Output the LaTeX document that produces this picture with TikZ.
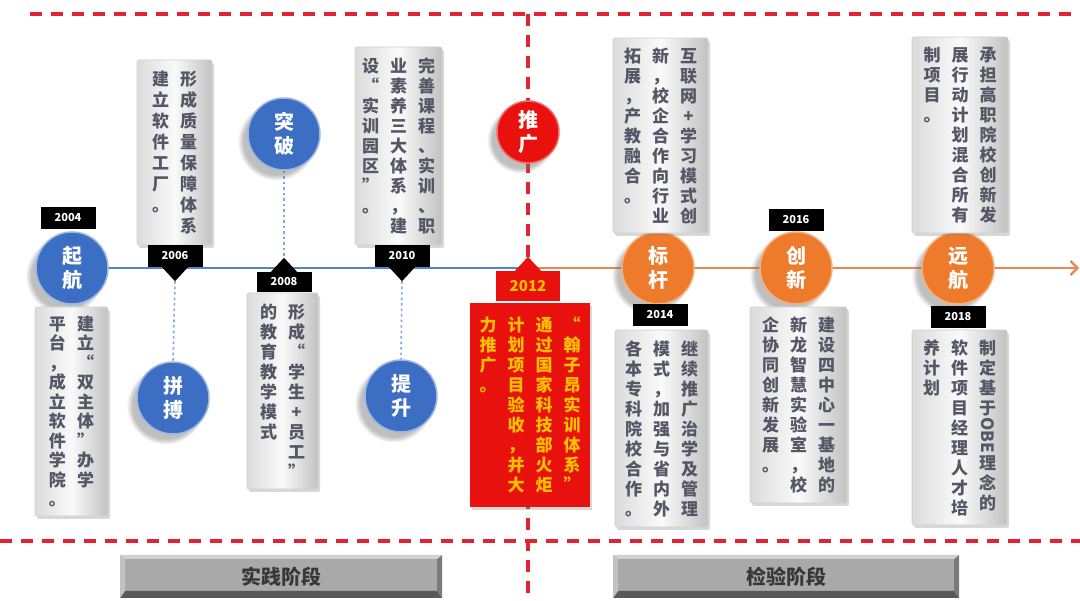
\documentclass[tikz,border=0pt]{standalone}
\usepackage{fontspec}
\usepackage{graphicx}
\setmainfont{Noto Sans CJK SC}
\usetikzlibrary{shadows,calc,arrows.meta}
\definecolor{cblue}{HTML}{3C6FC4}
\definecolor{corange}{HTML}{EE7B2C}
\definecolor{cred}{HTML}{E8110E}
\definecolor{lblue}{HTML}{4F86C6}
\definecolor{lorange}{HTML}{E9884A}
\definecolor{dashred}{HTML}{E42232}
\definecolor{dotblue}{HTML}{7FA7DA}
\definecolor{boxtext}{HTML}{555766}
\definecolor{gold}{HTML}{FFC000}
\definecolor{btngray}{HTML}{A9A9A9}
\makeatletter
\newdimen\vcpitch \vcpitch=20pt
\newcommand\vcol[1]{\vtop{\baselineskip=\vcpitch\lineskip=2pt\lineskiplimit=0pt\@tfor\vc@c:=#1\do{\hbox to 28pt{\hss\vc@c\hss}}}}
\makeatother
\pgfdeclarelayer{bg}
\pgfsetlayers{bg,main}
\tikzset{
  infobox/.style={rectangle, rounded corners=2pt, draw=black!18, line width=.6pt,
    left color=black!14, right color=black!24, middle color=black!2,
    drop shadow={shadow xshift=2pt, shadow yshift=-3pt, opacity=.3},
    text=boxtext, font=\fontsize{17}{20}\selectfont\bfseries, inner sep=0pt},
  redbox/.style={rectangle, fill=cred, drop shadow={shadow xshift=2pt, shadow yshift=-3pt, opacity=.3},
    text=gold, font=\fontsize{17}{20}\selectfont\bfseries, inner sep=0pt},
  yearlab/.style={rectangle, fill=black, text=white, minimum width=55pt, minimum height=22pt,
    inner sep=0pt, font=\fontsize{11}{12}\selectfont\bfseries},
  milestone/.style={circle, minimum size=72pt, inner sep=0pt, line width=1.5pt, text=white,
    align=center, font=\fontsize{20}{24}\selectfont\bfseries,
    circular drop shadow={shadow xshift=-7pt, shadow yshift=-7pt, opacity=.45, fill=black!55, shadow scale=1.08}},
  bluems/.style={milestone, fill=cblue, draw=cblue!50!white},
  orangems/.style={milestone, fill=corange, draw=corange!60!white},
  redms/.style={milestone, fill=cred, draw=cred!60!white, minimum size=62pt},
  reddash/.style={draw=dashred, line width=3.2pt, dash pattern=on 12pt off 9pt},
  dotconn/.style={draw=dotblue, line width=1.6pt, dash pattern=on 2.5pt off 3pt},
  phase/.style={rectangle, minimum height=43pt, fill=btngray, text=black!78,
    font=\fontsize{20}{24}\selectfont\bfseries, path picture={
      \fill[black!65] (path picture bounding box.south west) -- (path picture bounding box.south east)
        -- ([xshift=-5pt,yshift=7pt]path picture bounding box.south east)
        -- ([xshift=5pt,yshift=7pt]path picture bounding box.south west) -- cycle;
      \fill[black!52] (path picture bounding box.south east) -- (path picture bounding box.north east)
        -- ([xshift=-5pt,yshift=-4pt]path picture bounding box.north east)
        -- ([xshift=-5pt,yshift=7pt]path picture bounding box.south east) -- cycle;
      \fill[black!18] (path picture bounding box.north west) -- (path picture bounding box.north east)
        -- ([xshift=-5pt,yshift=-4pt]path picture bounding box.north east)
        -- ([xshift=5pt,yshift=-4pt]path picture bounding box.north west) -- cycle;
      \fill[black!24] (path picture bounding box.north west) -- (path picture bounding box.south west)
        -- ([xshift=5pt,yshift=7pt]path picture bounding box.south west)
        -- ([xshift=5pt,yshift=-4pt]path picture bounding box.north west) -- cycle;
    }},
}
\begin{document}
\begin{tikzpicture}[x=1pt,y=-1pt]
\useasboundingbox (0,0) rectangle (1080,601);

% ---------- milestone circles ----------
\node[bluems] (c2004) at (72,268) {起\\航};
\node[bluems] (c2006) at (173,398) {拼\\搏};
\node[bluems] (c2008) at (284,134) {突\\破};
\node[bluems] (c2010) at (401,396) {提\\升};
\node[redms] (c2012) at (528,132) {推\\广};
\node[orangems] (c2014) at (658,268) {标\\杆};
\node[orangems] (c2016) at (796,268) {创\\新};
\node[orangems] (c2018) at (958,268) {远\\航};

% ---------- text boxes ----------
\node[infobox, minimum width=73pt, minimum height=209pt] (bx2004) at (71.5,411.5)
  {\vcpitch=19.5pt\relax\vcol{平台，成立软件学院。}\vcol{建立“双主体”办学}};
\node[infobox, minimum width=75pt, minimum height=185pt] (bx2006) at (174.5,152.5)
  {\vcpitch=21pt\relax\vcol{建立软件工厂。}\vcol{形成质量保障体系}};
\node[infobox, minimum width=71pt, minimum height=196pt] (bx2008) at (282.5,391)
  {\vcol{的教育教学模式}\vcol{形成“学生+员工”}};
\node[infobox, minimum width=87pt, minimum height=198pt] (bx2010) at (398.5,146)
  {\vcol{设“实训园区”。}\vcol{业素养三大体系，建}\vcol{完善课程、实训、职}};
\node[redbox, minimum width=120pt, minimum height=204pt] (bx2012) at (530,405)
  {\vcol{力推广。}\vcol{计划项目验收，并大}\vcol{通过国家科技部火炬}\vcol{“翰子昂实训体系”}};
\node[infobox, minimum width=95pt, minimum height=195pt] (bx2014a) at (660.5,135.5)
  {\vcol{拓展，产教融合。}\vcol{新，校企合作向行业}\vcol{互联网+学习模式创}};
\node[infobox, minimum width=93pt, minimum height=197pt] (bx2014b) at (661.5,428.5)
  {\vcol{各本专科院校合作。}\vcol{模式，加强与省内外}\vcol{继续推广治学及管理}};
\node[infobox, minimum width=97pt, minimum height=196pt] (bx2016) at (798.5,405)
  {\vcol{企协同创新发展。}\vcol{新龙智慧实验室，校}\vcol{建设四中心一基地的}};
\node[infobox, minimum width=96pt, minimum height=196pt] (bx2018a) at (960,135)
  {\vcol{制项目。}\vcol{展行动计划混合所有}\vcol{承担高职院校创新发}};
\node[infobox, minimum width=95pt, minimum height=195pt] (bx2018b) at (959.5,427.5)
  {\vcol{养计划}\vcol{软件项目经理人才培}\vcol{制定基于{\rotatebox[origin=c]{-90}{OBE}}理念的}};

% ---------- year labels ----------
\node[yearlab] (l2004) at (68,218) {2004};
\node[yearlab] (l2006) at (175,256) {2006};
\node[yearlab, minimum height=20pt] (l2008) at (284,282) {2008};
\node[yearlab] (l2010) at (402,256) {2010};
\node[yearlab, fill=cred, text=gold, minimum width=64pt, minimum height=30pt,
      font=\fontsize{15}{16}\selectfont\bfseries] (l2012) at (528,286) {2012};
\node[yearlab] (l2014) at (660,315) {2014};
\node[yearlab] (l2016) at (796,220) {2016};
\node[yearlab] (l2018) at (958,317) {2018};

% pointers
\fill[black] ([xshift=-13pt]l2006.south) -- ([xshift=13pt]l2006.south) -- ([yshift=-14pt]l2006.south) -- cycle;
\coordinate (t2006) at ([yshift=-14pt]l2006.south);
\fill[black] ([xshift=-13pt]l2008.north) -- ([xshift=13pt]l2008.north) -- ([yshift=14pt]l2008.north) -- cycle;
\coordinate (t2008) at ([yshift=14pt]l2008.north);
\fill[black] ([xshift=-13pt]l2010.south) -- ([xshift=13pt]l2010.south) -- ([yshift=-14pt]l2010.south) -- cycle;
\coordinate (t2010) at ([yshift=-14pt]l2010.south);
\fill[cred] ([xshift=-13pt]l2012.north) -- ([xshift=13pt]l2012.north) -- ([yshift=14pt]l2012.north) -- cycle;

% ---------- phase buttons ----------
\node[phase, minimum width=322pt] (ph1) at (281,576.5) {实践阶段};
\node[phase, minimum width=346pt] (ph2) at (786,576.5) {检验阶段};

% ---------- background lines ----------
\coordinate (tmid) at (528,268);
\coordinate (tend) at (1079,268);
\coordinate (dTL) at (30,14);
\coordinate (dTR) at (1080,14);
\coordinate (dBL) at (0,541);
\coordinate (dBR) at (1080,541);
\coordinate (dVT) at (528,14);
\coordinate (dVB) at (528,598);
\begin{pgfonlayer}{bg}
  \fill[white] (0,0) rectangle (1080,601);
  \draw[reddash] (dTL) -- (dTR);
  \draw[reddash] (dBL) -- (dBR);
  \draw[reddash] (dVT) -- (dVB);
  \draw[lblue, line width=2pt] (c2004.center) -- (tmid);
  \draw[lorange, line width=2.2pt, -{Straight Barb[length=7pt,width=14pt]}] (tmid) -- (tend);
  \draw[dotconn] (t2006) -- (c2006.north);
  \draw[dotconn] (c2008.south) -- (t2008);
  \draw[dotconn] (t2010) -- (c2010.north);
\end{pgfonlayer}
\end{tikzpicture}
\end{document}
